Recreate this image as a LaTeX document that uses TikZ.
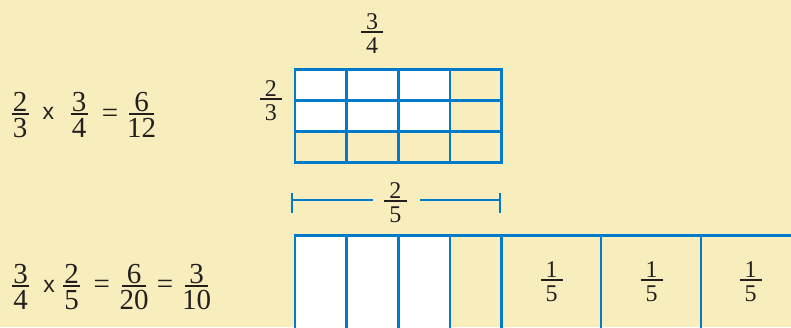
\documentclass[tikz,border=0pt]{standalone}
\usepackage{fontspec}
\setmainfont{Liberation Serif}
\newfontfamily\xfont{Liberation Sans}
\usetikzlibrary{calc}
\definecolor{paper}{RGB}{248,237,188}
\definecolor{fblue}{RGB}{0,122,201}
\definecolor{ink}{RGB}{35,31,32}
\tikzset{
  bigtxt/.style={font=\fontsize{29}{33}\selectfont, inner sep=0pt, text=ink, text height=19.6pt, text depth=0pt},
  smalltxt/.style={font=\fontsize{24}{28}\selectfont, inner sep=0pt, text=ink, text height=16.2pt, text depth=0pt},
  eqsign/.style={font=\fontsize{29}{33}\selectfont, inner sep=0pt, text=ink, text height=11.5pt, text depth=0pt},
  timesx/.style={font=\xfont\fontsize{23}{26}\selectfont, inner sep=0pt, text=ink, text height=11.9pt, text depth=0pt},
  fracbar/.style={line width=1.8pt, draw=ink},
  gridline/.style={draw=fblue, line width=2.7pt, line cap=rect},
  bracketline/.style={draw=fblue, line width=2pt},
}
% name, x, ybar, halfwidth, num, den
\newcommand\FrBig[6]{%
  \coordinate (#1) at (#2,#3);
  \node[bigtxt,anchor=base] (#1n) at (#2,#3-2.5) {#5};
  \node[bigtxt,anchor=base] (#1d) at (#2,#3+23.5) {#6};
  \draw[fracbar] (#2-#4,#3) -- (#2+#4,#3);}
\newcommand\FrSmall[6]{%
  \coordinate (#1) at (#2,#3);
  \node[smalltxt,anchor=base] (#1n) at (#2,#3-2.5) {#5};
  \node[smalltxt,anchor=base] (#1d) at (#2,#3+21.5) {#6};
  \draw[fracbar] (#2-#4,#3) -- (#2+#4,#3);}
\begin{document}
\begin{tikzpicture}[x=1pt,y=-1pt]
\useasboundingbox (0,0) rectangle (791,327);
\clip (0,0) rectangle (791,327);
\fill[paper] (0,0) rectangle (791,327);

% ---- top equation
\FrBig{a1}{20}{114}{8.5}{2}{3}
\node[timesx] (a2) at (48.3,114) {x};
\FrBig{a3}{79}{114}{8.5}{3}{4}
\node[eqsign,anchor=base] (a4) at (110,122.3) {=};
\FrBig{a5}{141.7}{114}{12.5}{6}{12}

% ---- top grid
\fill[white] (295,69.3) rectangle (450,131.56);
\foreach \i in {0,...,4} \draw[gridline] (295+51.675*\i,69.3) -- (295+51.675*\i,162.7);
\foreach \j in {0,...,3} \draw[gridline] (295,69.3+31.13*\j) -- (501.7,69.3+31.13*\j);
\FrSmall{t1}{372}{32.3}{11}{3}{4}
\FrSmall{t2}{270.8}{98.7}{10.8}{2}{3}

% ---- bracket
\FrSmall{k1}{395.3}{200.7}{11.3}{2}{5}
\coordinate (kL) at (291.7,200);
\coordinate (kR) at (500,200);
\coordinate (kLi) at (372.7,200);
\coordinate (kRi) at (420,200);
\draw[bracketline] (kL) -- (kLi);
\draw[bracketline] (kRi) -- (kR);
\draw[bracketline] ($(kL)+(0,-7)$) -- ($(kL)+(0,13)$);
\draw[bracketline] ($(kR)+(0,-7)$) -- ($(kR)+(0,13)$);

% ---- bottom equation
\FrBig{b1}{20.7}{286}{8.5}{3}{4}
\node[timesx] (b2) at (49,286.7) {x};
\FrBig{b3}{71.7}{286}{8.5}{2}{5}
\node[eqsign,anchor=base] (b4) at (101.7,293.6) {=};
\FrBig{b5}{134}{286}{11.7}{6}{20}
\node[eqsign,anchor=base] (b6) at (165,293.6) {=};
\FrBig{b7}{196.7}{286}{11.5}{3}{10}

% ---- bottom bar
\fill[white] (295,235.5) rectangle (450,340);
\draw[gridline] (295,340) -- (295,235.5) -- (820,235.5);
\foreach \x in {346.7,398.3,450,501.7,601,701} \draw[gridline] (\x,235.5) -- (\x,340);
\FrSmall{c1}{551.7}{280}{11}{1}{5}
\FrSmall{c2}{651.7}{280}{11}{1}{5}
\FrSmall{c3}{750.7}{280}{11}{1}{5}
\end{tikzpicture}
\end{document}
